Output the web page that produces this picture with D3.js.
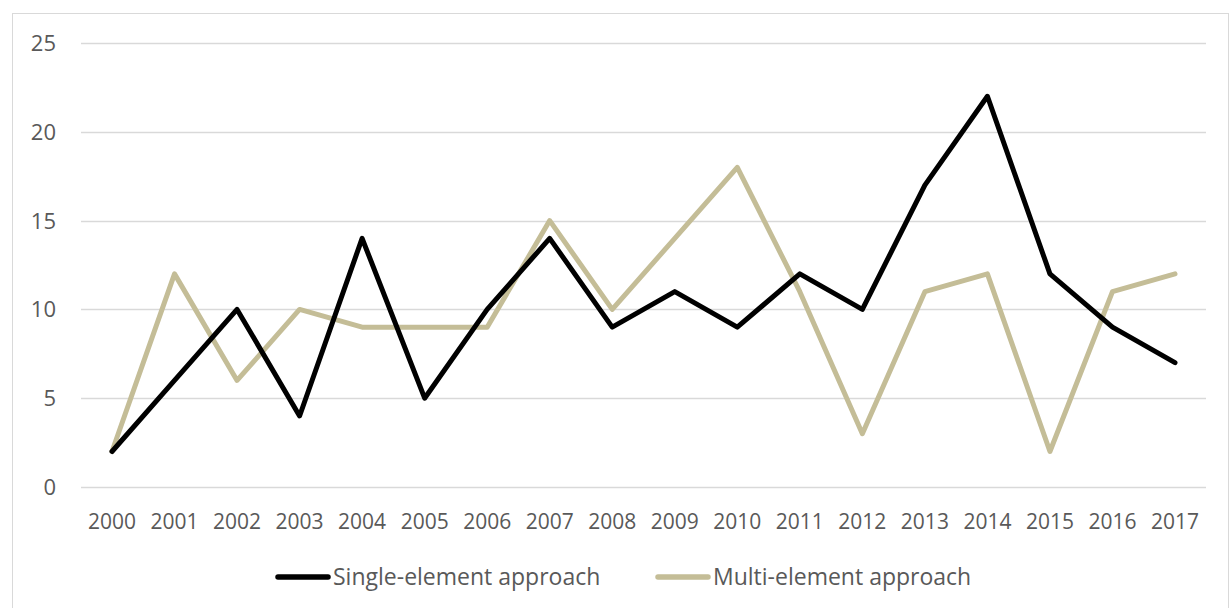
<!DOCTYPE html>
<html>
<head>
<meta charset="utf-8">
<script src="https://cdn.jsdelivr.net/npm/d3@7"></script>
<style>
  html, body { margin: 0; padding: 0; background: #fff; }
  svg { display: block; }
  text { font-family: "Open Sans", "Noto Sans", sans-serif; fill: #595959; }
</style>
</head>
<body>
<svg id="chart" width="1231" height="608"></svg>
<script>
const years = ["2000","2001","2002","2003","2004","2005","2006","2007","2008","2009",
               "2010","2011","2012","2013","2014","2015","2016","2017"];
const singleElement = [2, 6, 10, 4, 14, 5, 10, 14, 9, 11, 9, 12, 10, 17, 22, 12, 9, 7];
const multiElement  = [2, 12, 6, 10, 9, 9, 9, 15, 10, 14, 18, 11, 3, 11, 12, 2, 11, 12];
const yTicks = [0, 5, 10, 15, 20, 25];
const seriesNames = ["Single-element approach", "Multi-element approach"];
const seriesColors = ["#000000", "#c4bd97"];

const svg = d3.select("#chart");

// chart frame
svg.append("rect")
  .attr("x", 12.5).attr("y", 13.5)
  .attr("width", 1216).attr("height", 620)
  .attr("fill", "none").attr("stroke", "#d9d9d9").attr("stroke-width", 1);

const x = d3.scalePoint().domain(years).range([112, 1175]);
const y = d3.scaleLinear().domain([0, 25]).range([487, 43]);

// horizontal gridlines
svg.append("g").selectAll("line").data(yTicks).join("line")
  .attr("x1", 81).attr("x2", 1206)
  .attr("y1", d => Math.round(y(d)) + 0.5).attr("y2", d => Math.round(y(d)) + 0.5)
  .attr("stroke", "#d9d9d9").attr("stroke-width", 1.5);

// y axis labels
svg.append("g").selectAll("text").data(yTicks).join("text")
  .attr("x", 56).attr("y", d => y(d))
  .attr("dy", "0.36em")
  .attr("text-anchor", "end")
  .style("font-size", "22px")
  .text(d => d);

// x axis labels
svg.append("g").selectAll("text").data(years).join("text")
  .attr("x", d => x(d)).attr("y", 529)
  .attr("text-anchor", "middle")
  .style("font-size", "21px")
  .text(d => d);

const line = d3.line()
  .x((d, i) => x(years[i]))
  .y(d => y(d));

// multi-element drawn first so single-element sits on top
[[multiElement, seriesColors[1]], [singleElement, seriesColors[0]]].forEach(([vals, col]) => {
  svg.append("path")
    .datum(vals)
    .attr("d", line)
    .attr("fill", "none")
    .attr("stroke", col)
    .attr("stroke-width", 5)
    .attr("stroke-linejoin", "round")
    .attr("stroke-linecap", "round");
});

// legend
const legendItems = [
  { name: seriesNames[0], color: seriesColors[0], x: 275 },
  { name: seriesNames[1], color: seriesColors[1], x: 655 }
];
const lg = svg.append("g").selectAll("g").data(legendItems).join("g")
  .attr("transform", d => `translate(${d.x},577)`);
lg.append("line")
  .attr("x1", 3).attr("x2", 53).attr("y1", 0).attr("y2", 0)
  .attr("stroke", d => d.color).attr("stroke-width", 5.5).attr("stroke-linecap", "round");
lg.append("text")
  .attr("x", 58).attr("y", 0).attr("dy", "0.36em")
  .style("font-size", "23px")
  .text(d => d.name);
</script>
</body>
</html>
